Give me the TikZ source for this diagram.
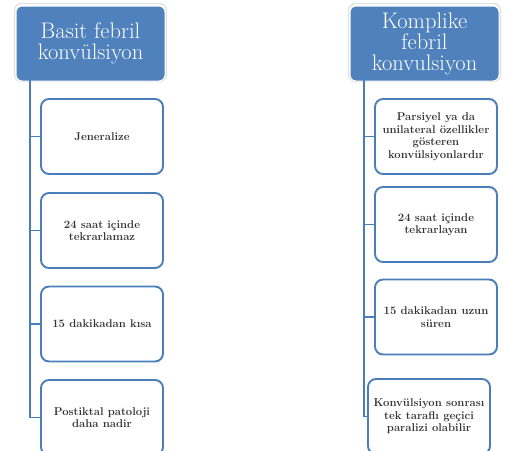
\documentclass[tikz,border=0pt]{standalone}
\usepackage{fontspec}
\begin{document}
\definecolor{hdrblue}{HTML}{4F81BD}
\definecolor{lineblue}{HTML}{4A7EBB}
\definecolor{txtgray}{HTML}{333333}
\begin{tikzpicture}[x=1pt,y=-1pt,
  header/.style={rectangle, rounded corners=6pt, fill=hdrblue, draw=white,
    line width=1pt, minimum width=149pt, minimum height=75pt, inner sep=0pt,
    align=center, text=white, font=\fontsize{22.5}{21}\selectfont},
  halo/.style={rectangle, rounded corners=7pt, draw=black!12, line width=1.2pt,
    minimum width=152pt, minimum height=78pt},
  item/.style={rectangle, rounded corners=8pt, fill=white, draw=lineblue,
    line width=1.9pt, minimum width=122pt, minimum height=75pt, inner sep=0pt,
    align=center, text=txtgray, font=\fontsize{11.3}{12.5}\selectfont\bfseries},
  link/.style={draw=lineblue, line width=1.9pt}]
\useasboundingbox (0,0) rectangle (505,450);
\clip (0,0) rectangle (505,450);

% soft outlines behind the two headers
\node[halo] (gL) at (90.5,42.5) {};
\node[halo] (gR) at (424.5,42.5) {};

% left column: simple febrile seizure
\node[header] (hL) at (90.5,43.5) {Basit febril\\konvülsiyon};
\node[item] (l1) at (102,136.5) {Jeneralize};
\node[item] (l2) at (102,230.5) {24 saat içinde\\tekrarlamaz};
\node[item] (l3) at (102,324) {15 dakikadan kısa};
\node[item] (l4) at (102,417.5) {Postiktal patoloji\\daha nadir};
\coordinate (tL) at (30,80);

% right column: complex febrile seizure
\node[header] (hR) at (424.5,43.5) {Komplike\\febril\\konvulsiyon};
\node[item] (r1) at (436,136.5) {Parsiyel ya da\\unilateral özellikler\\gösteren\\konvülsiyonlardır};
\node[item] (r2) at (436,224.5) {24 saat içinde\\tekrarlayan};
\node[item] (r3) at (436,317) {15 dakikadan uzun\\süren};
\node[item] (r4) at (429,416.5) {Konvülsiyon sonrası\\tek taraflı geçici\\paralizi olabilir};
\coordinate (tR) at (364,80);

% trunk-and-branch connectors
\foreach \c in {l1,l2,l3,l4} \draw[link] (tL) |- (\c.west);
\foreach \c in {r1,r2,r3,r4} \draw[link] (tR) |- (\c.west);
\end{tikzpicture}
\end{document}
